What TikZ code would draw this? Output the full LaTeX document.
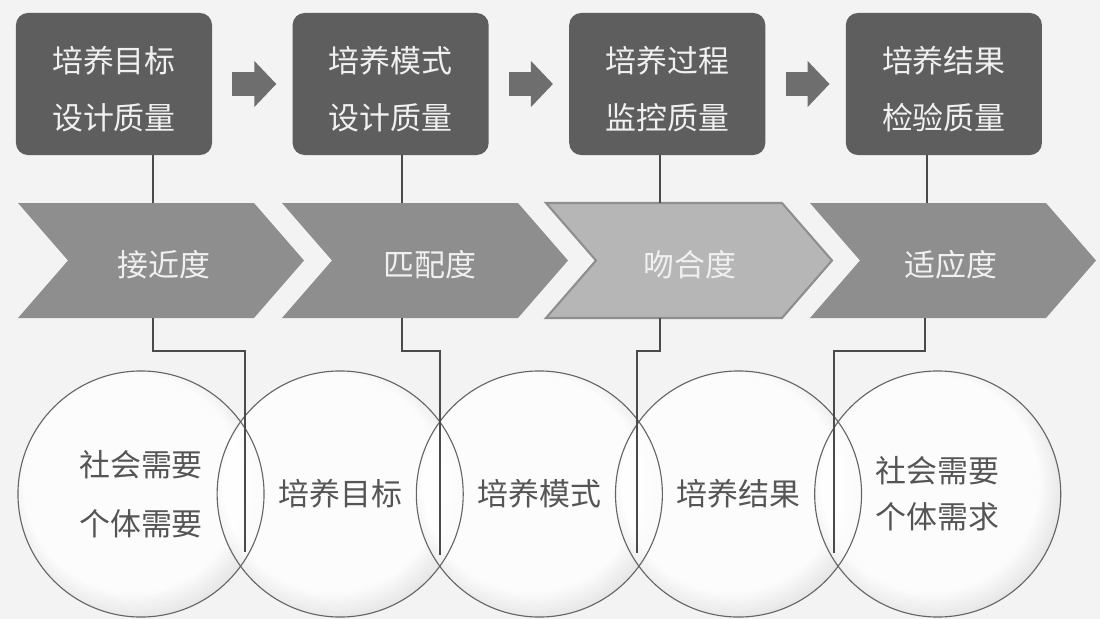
\documentclass[tikz,border=0pt]{standalone}
\usepackage{fontspec}
\newfontfamily\cjk{Noto Sans CJK SC}
\usepackage{tikz}
\usepackage{xcolor}
\usetikzlibrary{arrows.meta, positioning, backgrounds}
\definecolor{paper}{HTML}{F3F3F3}
\definecolor{boxgray}{HTML}{5E5E5E}
\definecolor{arrowgray}{HTML}{6E6E6E}
\definecolor{chevgray}{HTML}{8E8E8E}
\definecolor{chevlight}{HTML}{B6B6B6}
\definecolor{boxtext}{HTML}{F0F0F0}
\definecolor{linegray}{HTML}{4A4A4A}
\definecolor{circtext}{HTML}{555555}
\definecolor{orbedge}{HTML}{B8B8B8}
\pgfdeclareradialshading{orbshade}{\pgfpoint{-3bp}{4bp}}{color(0bp)=(white); color(22bp)=(white); color(35bp)=(orbedge); color(50bp)=(orbedge)}
\tikzstyle{stagebox} = [rectangle, fill=boxgray, text=boxtext, rounded corners=0.3cm, minimum width=4.9cm, minimum height=3.55cm, align=center, font=\cjk\fontsize{22}{30}\selectfont]
\tikzstyle{flowarrow} = [draw=arrowgray, line width=0.62cm, -{Triangle[length=0.55cm, width=1.12cm]}, shorten <=0.5cm, shorten >=0.4cm]
\tikzstyle{chevron} = [fill=chevgray]
\tikzstyle{chevlit} = [fill=chevlight, draw=chevgray, line width=1.5pt]
\tikzstyle{chevtext} = [text=boxtext, font=\cjk\fontsize{22}{30}\selectfont]
\tikzstyle{link} = [draw=linegray, line width=2pt]
\tikzstyle{orb} = [circle, draw=linegray!85, line width=0.8pt, minimum size=6.15cm, inner sep=0pt, align=center, text=circtext, font=\cjk\fontsize{22}{30}\selectfont]

\begin{document}
\begin{tikzpicture}[x=0.025cm, y=-0.025cm]
    % Stages
    \node [stagebox] at (114,84) (b1) {\rule{0pt}{26pt}培养目标\\[10pt]设计质量};
    \node [stagebox, right=2cm of b1] (b2) {\rule{0pt}{26pt}培养模式\\[10pt]设计质量};
    \node [stagebox, right=2cm of b2] (b3) {\rule{0pt}{26pt}培养过程\\[10pt]监控质量};
    \node [stagebox, right=2cm of b3] (b4) {\rule{0pt}{26pt}培养结果\\[10pt]检验质量};

    \draw [flowarrow] (b1) -- (b2);
    \draw [flowarrow] (b2) -- (b3);
    \draw [flowarrow] (b3) -- (b4);

    % Degrees
    \foreach \L/\s in {18/chevron, 282/chevron, 546/chevlit, 810/chevron}
        \path [\s] (\L,203) -- ++(236,0) -- ++(50,57.5) -- ++(-50,57.5) -- ++(-236,0) -- ++(50,-57.5) -- cycle;
    \node [chevtext] at (164,265) (v1) {接近度};
    \node [chevtext] at (430,265) (v2) {匹配度};
    \node [chevtext] at (690,265) (v3) {吻合度};
    \node [chevtext] at (951,265) (v4) {适应度};

    % Circles
    \node [orb] at (141,494) (c1) {社会需要\\[12pt]个体需要};
    \node [orb, right=-1.2cm of c1] (c2) {培养目标};
    \node [orb, right=-1.2cm of c2] (c3) {培养模式};
    \node [orb, right=-1.2cm of c3] (c4) {培养结果};
    \node [orb, right=-1.2cm of c4] (c5) {社会需要\\[3pt]个体需求};

    % Lines
    \coordinate (t1) at (153,203);
    \coordinate (t2) at (402,203);
    \coordinate (t3) at (660,203);
    \coordinate (t4) at (927,203);
    \foreach \i in {1,...,4}
        \draw [link] (b\i.south -| t\i) -- (t\i);

    \coordinate (d1) at (153,318);
    \coordinate (d2) at (402,318);
    \coordinate (d3) at (660,318);
    \coordinate (d4) at (925,318);
    \coordinate (e1) at (245,552);
    \coordinate (e2) at (440,555);
    \coordinate (e3) at (637,553);
    \coordinate (e4) at (834,553);
    \foreach \i in {1,...,4}
        \draw [link] (d\i) -- ++(0,33) -| (e\i);

    % Background
    \begin{pgfonlayer}{background}
        \fill [paper] (0,0) rectangle (1100,619);
        \foreach \i in {1,...,5}
            \shade [shading=orbshade, fill opacity=0.8] (c\i.center) circle [radius=3.075cm];
    \end{pgfonlayer}
\end{tikzpicture}
\end{document}
